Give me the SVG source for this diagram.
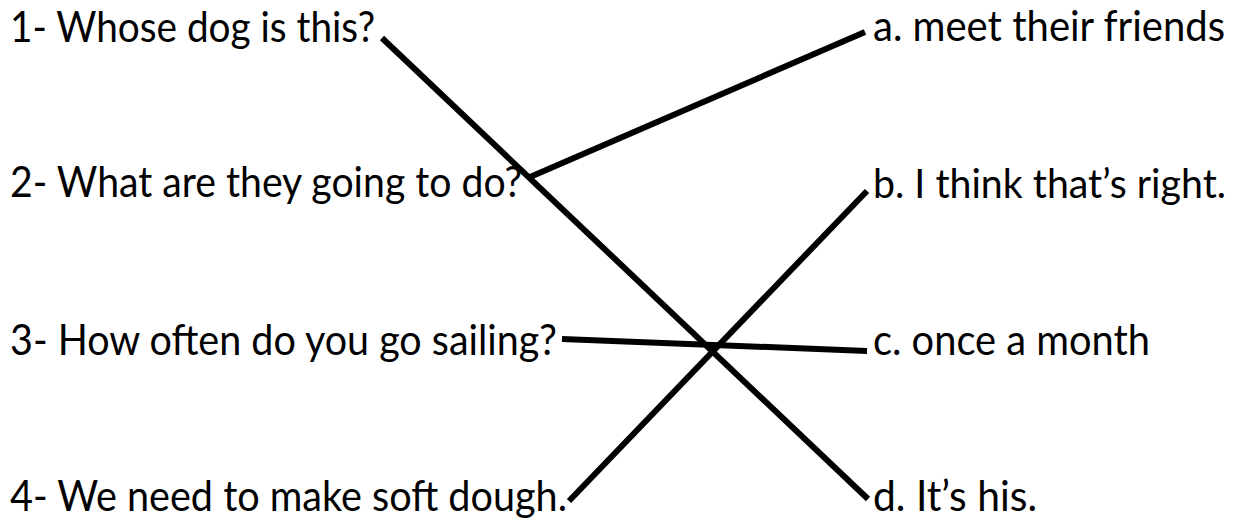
<svg xmlns="http://www.w3.org/2000/svg" width="1243" height="523" viewBox="0 0 1243 523">
<style>
.t{font-family:Lato,"Open Sans","Liberation Sans",sans-serif;font-size:42px;fill:#000}
.c{stroke:#000;stroke-width:6;fill:none;stroke-linecap:butt}
</style>
<rect width="1243" height="523" fill="#fff"/>
<g id="q1"><text class="t" x="10" y="42" textLength="365" lengthAdjust="spacingAndGlyphs">1- Whose dog is this?</text></g>
<g id="q2"><text class="t" x="10" y="197" textLength="512" lengthAdjust="spacingAndGlyphs">2- What are they going to do?</text></g>
<g id="q3"><text class="t" x="10" y="355" textLength="547" lengthAdjust="spacingAndGlyphs">3- How often do you go sailing?</text></g>
<g id="q4"><text class="t" x="10" y="511" textLength="557" lengthAdjust="spacingAndGlyphs">4- We need to make soft dough.</text></g>
<g id="a"><text class="t" x="873" y="41" textLength="352" lengthAdjust="spacingAndGlyphs">a. meet their friends</text></g>
<g id="b"><text class="t" x="873" y="198" textLength="353" lengthAdjust="spacingAndGlyphs" style="font-size:40px">b. I think that’s right.</text></g>
<g id="c"><text class="t" x="873" y="355" textLength="277" lengthAdjust="spacingAndGlyphs">c. once a month</text></g>
<g id="d"><text class="t" x="873" y="511" textLength="164" lengthAdjust="spacingAndGlyphs">d. It’s his.</text></g>
<g id="connectors">
<line class="c" x1="382" y1="38" x2="868" y2="499"/>
<line class="c" x1="530" y1="177" x2="865" y2="32"/>
<line class="c" x1="562" y1="339" x2="867" y2="351"/>
<line class="c" x1="569" y1="501" x2="867" y2="191"/>
</g>
</svg>
